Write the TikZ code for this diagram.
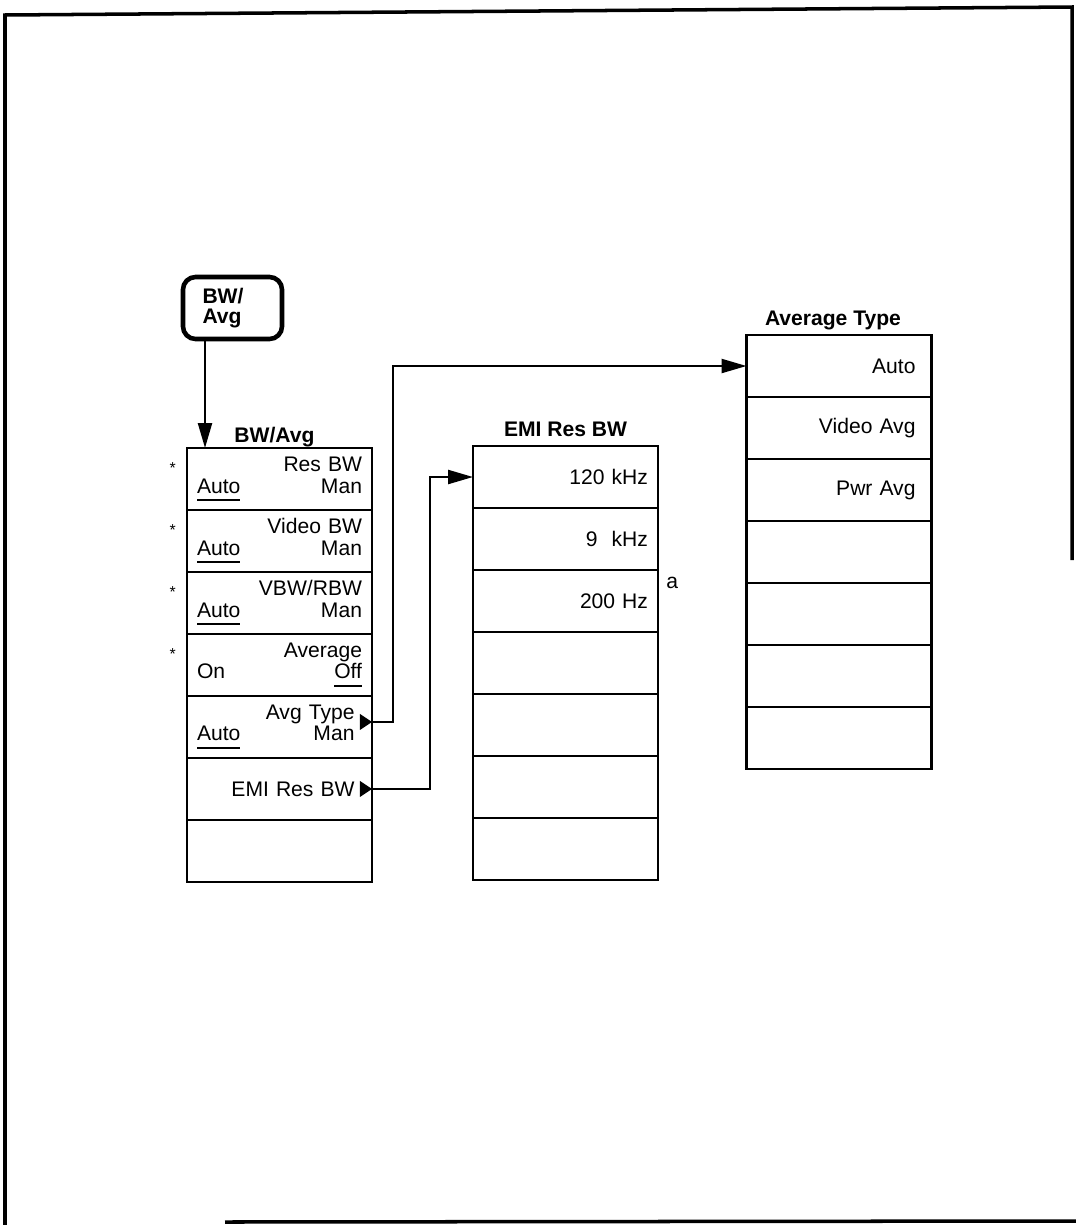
\documentclass[tikz,border=0pt]{standalone}
\usepackage{fontspec}
\setmainfont{Liberation Sans}
\usetikzlibrary{positioning,arrows.meta}

% underlined (active) choice of a softkey
\newlength{\selwidth}
\newcommand{\selkey}[1]{\leavevmode\settowidth{\selwidth}{#1}\rlap{\rule[-4.5pt]{\selwidth}{1.3pt}}#1}

\begin{document}
\begin{tikzpicture}[x=0.02cm,y=-0.02cm,
    softkey/.style={draw,rectangle,line width=1.6pt,outer sep=0pt,
      minimum width=3.7cm,minimum height=1.24cm,inner xsep=0.2cm,
      text width=3.3cm,align=right,font=\fontsize{12}{12.2}\selectfont},
    menutitle/.style={inner sep=0pt,text depth=0pt,
      font=\fontsize{12}{14}\selectfont\bfseries},
    hardkey/.style={draw,line width=2.6pt,rounded corners=0.25cm,
      minimum width=1.98cm,minimum height=1.24cm,inner xsep=0.39cm,
      text width=1.2cm,align=left,font=\fontsize{12}{11.4}\selectfont\bfseries},
    menuarrow/.style={line width=1.3pt,-{Triangle[length=0.5cm,width=0.28cm]}},
    starmark/.style={inner sep=0pt,font=\fontsize{9}{9}\selectfont}]

\useasboundingbox (0,0) rectangle (1076,1225);

% page frame
\draw[line width=2pt] (5,1225) -- (5,15) -- (1072,7) -- (1072,560);
\draw[line width=2pt] (225,1222) -- (1076,1221);

% front panel key
\node[hardkey] (bwkey) at (232.5,308) {BW/\\Avg};

% BW/Avg menu
\node[softkey] (bw1) at (279.5,479) {Res BW\\ \selkey{Auto}\hfill Man};
\node[softkey,below=0pt of bw1] (bw2) {Video BW\\ \selkey{Auto}\hfill Man};
\node[softkey,below=0pt of bw2] (bw3) {VBW/RBW\\ \selkey{Auto}\hfill Man};
\node[softkey,below=0pt of bw3] (bw4) {Average\\ On\hfill\selkey{Off}};
\node[softkey,below=0pt of bw4] (bw5) {Avg Type\kern0.15cm\\ \selkey{Auto}\hfill Man\kern0.15cm};
\node[softkey,below=0pt of bw5] (bw6) {EMI Res BW\kern0.15cm};
\node[softkey,below=0pt of bw6] (bw7) {};
\node[menutitle,above=0.1cm of bw1,xshift=-0.1cm] (bwtitle) {BW/Avg};

\node[starmark,left=0.22cm of bw1.west,yshift=0.22cm] (star1) {*};
\node[starmark,left=0.22cm of bw2.west,yshift=0.22cm] (star2) {*};
\node[starmark,left=0.22cm of bw3.west,yshift=0.22cm] (star3) {*};
\node[starmark,left=0.22cm of bw4.west,yshift=0.22cm] (star4) {*};

% EMI Res BW menu
\node[softkey] (emi1) at (565.5,477) {120 kHz};
\node[softkey,below=0pt of emi1] (emi2) {9\ \ kHz};
\node[softkey,below=0pt of emi2] (emi3) {200 Hz};
\node[softkey,below=0pt of emi3] (emi4) {};
\node[softkey,below=0pt of emi4] (emi5) {};
\node[softkey,below=0pt of emi5] (emi6) {};
\node[softkey,below=0pt of emi6] (emi7) {};
\node[menutitle] (emititle) at ([yshift=0.18cm]emi1.north) [anchor=south] {EMI Res BW};
\node[anchor=north west,inner sep=0pt,font=\fontsize{12}{14}\selectfont] (note)
  at ([xshift=0.16cm,yshift=-0.14cm]emi3.north east) {a};

% Average Type menu
\node[softkey] (at1) at (839,366) {Auto\kern0.12cm};
\node[softkey,below=0pt of at1] (at2) {Video Avg\kern0.12cm};
\node[softkey,below=0pt of at2] (at3) {Pwr Avg\kern0.12cm};
\node[softkey,below=0pt of at3] (at4) {};
\node[softkey,below=0pt of at4] (at5) {};
\node[softkey,below=0pt of at5] (at6) {};
\node[softkey,below=0pt of at6] (at7) {};
\node[menutitle,above=0.18cm of at1,xshift=-0.12cm] (attitle) {Average Type};

% connectors
\draw[menuarrow] ([xshift=-0.55cm]bwkey.south) -- ([xshift=-0.55cm]bwkey.south |- bw1.north);

\coordinate (avgout) at ([yshift=0.1cm]bw5.east);
\coordinate (emiout) at (bw6.east);
\fill (avgout) -- ++(-12,-8) -- ++(0,16) -- cycle;
\fill (emiout) -- ++(-12,-8) -- ++(0,16) -- cycle;

\draw[menuarrow] (avgout) -- ++(21,0) |- (at1.west);
\draw[menuarrow] (emiout) -- ++(58,0) |- (emi1.west);
\end{tikzpicture}
\end{document}
